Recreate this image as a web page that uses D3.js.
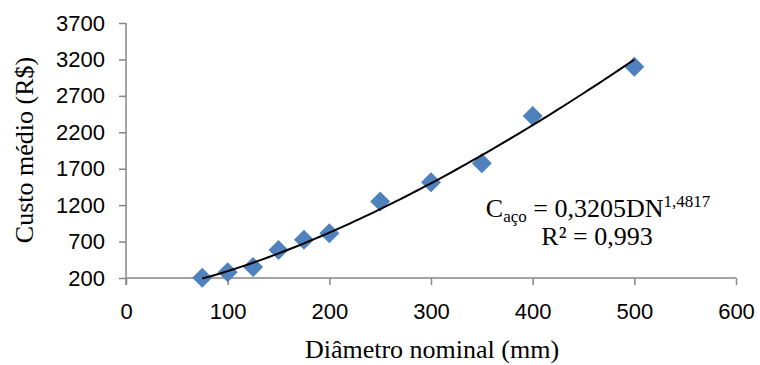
<!DOCTYPE html>
<html>
<head>
<meta charset="utf-8">
<script src="https://cdn.jsdelivr.net/npm/d3@7"></script>
<style>
  body { margin: 0; background: #fff; }
  .tick text { font-family: "Liberation Sans", Arial, sans-serif; font-size: 22px; fill: #000; }
  .axis path, .axis line { stroke: #868686; stroke-width: 1.5; }
  .title { font-family: "Liberation Serif", "Times New Roman", serif; font-size: 26px; fill: #000; }
</style>
</head>
<body>
<div id="chart"></div>
<script>
// diametro nominal (mm) and custo medio (R$)
var diametros = [75, 100, 125, 150, 175, 200, 250, 300, 350, 400, 500];
var custos = [205, 280, 350, 585, 725, 815, 1250, 1515, 1775, 2425, 3100];

var xTicks = [0, 100, 200, 300, 400, 500, 600];
var yTicks = [200, 700, 1200, 1700, 2200, 2700, 3200, 3700];

// power trendline C = a * DN^b, coefficients as printed on the chart
var fitCoef = [0.3205, 1.4817];
var fitRange = [75, 500];

var width = 760, height = 365;

var svg = d3.select("#chart").append("svg")
    .attr("width", width)
    .attr("height", height);

var x = d3.scaleLinear().domain([0, 600]).range([126, 736]);
var y = d3.scaleLinear().domain([200, 3700]).range([278, 23]);

// y axis
var yAxis = svg.append("g")
    .attr("class", "axis")
    .attr("transform", "translate(" + x(0) + ",0)")
    .call(d3.axisLeft(y).tickValues(yTicks).tickFormat(d3.format("d"))
        .tickSize(7).tickPadding(14).tickSizeOuter(0));
yAxis.select(".domain").attr("d", "M0," + y(3700) + "V" + (y(200) + 7));

// x axis
var xAxis = svg.append("g")
    .attr("class", "axis")
    .attr("transform", "translate(0," + y(200) + ")")
    .call(d3.axisBottom(x).tickValues(xTicks).tickFormat(d3.format("d"))
        .tickSize(7).tickPadding(14).tickSizeOuter(0));
xAxis.select(".domain").attr("d", "M" + x(0) + ",0H" + x(600));
xAxis.selectAll(".tick text").attr("dy", "0.9em");

// the points
var diamond = d3.symbol().type(d3.symbolSquare).size(200);
svg.append("g").selectAll("path")
    .data(diametros)
    .enter().append("path")
    .attr("d", diamond)
    .attr("fill", "#4F81BD")
    .attr("transform", function (d, i) {
        return "translate(" + x(d) + "," + y(custos[i]) + ") rotate(45)";
    });

// trendline
var fitPts = d3.range(fitRange[0], fitRange[1] + 1, 5).map(function (d) {
    return [d, fitCoef[0] * Math.pow(d, fitCoef[1])];
});
svg.append("path")
    .datum(fitPts)
    .attr("fill", "none")
    .attr("stroke", "#000")
    .attr("stroke-width", 2)
    .attr("d", d3.line()
        .x(function (d) { return x(d[0]); })
        .y(function (d) { return y(d[1]); }));

// equation label
var eq = svg.append("text")
    .attr("class", "title")
    .attr("x", 598)
    .attr("y", 217)
    .attr("text-anchor", "middle");
eq.append("tspan").text("C");
eq.append("tspan").attr("font-size", "17px").attr("dy", 5).text("aço");
eq.append("tspan").attr("dy", -5).text(" = 0,3205DN");
eq.append("tspan").attr("font-size", "17px").attr("dy", -10).text("1,4817");

svg.append("text")
    .attr("class", "title")
    .attr("x", 597)
    .attr("y", 245)
    .attr("text-anchor", "middle")
    .text("R² = 0,993");

// axis titles
svg.append("text")
    .attr("class", "title")
    .attr("x", 432)
    .attr("y", 358)
    .attr("text-anchor", "middle")
    .text("Diâmetro nominal (mm)");

svg.append("text")
    .attr("class", "title")
    .attr("transform", "translate(33,150) rotate(-90)")
    .attr("text-anchor", "middle")
    .text("Custo médio (R$)");
</script>
</body>
</html>
